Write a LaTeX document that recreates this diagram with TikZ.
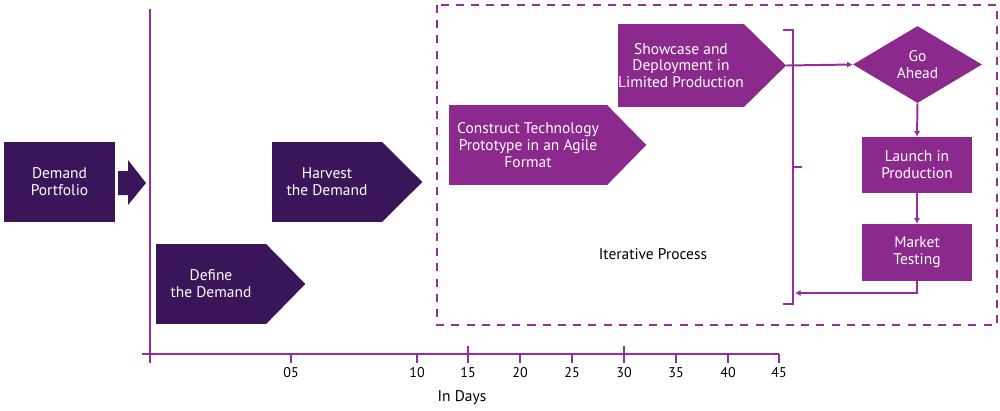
\documentclass[tikz,border=0pt]{standalone}
\usepackage{fontspec}
\setmainfont{PT Sans}
\usetikzlibrary{shapes.geometric,arrows.meta}
\definecolor{deepplum}{RGB}{58,21,90}
\definecolor{orchid}{RGB}{139,41,140}
\definecolor{axisline}{RGB}{150,45,155}

\begin{document}
\begin{tikzpicture}
  [x=0.025cm,y=-0.025cm,
   every node/.style={align=center,font=\fontsize{11}{12}\selectfont},
   darkbox/.style={fill=deepplum,text=white,inner sep=0,minimum height=2cm},
   lightbox/.style={fill=orchid,text=white,inner sep=0},
   axisrule/.style={draw=axisline,line width=1.4pt},
   link/.style={axisrule,-{Latex[length=4pt,width=4.5pt]}}]
  \useasboundingbox (0,0) rectangle (1000,410);

  % time axis
  \draw[axisrule] (150,9) -- (150,363);
  \draw[axisrule] (142,354) -- (779,354);
  \foreach \x/\d in {291/05,417/10,520/20,572/25,676/35,728/40,779/45}
    \draw[axisrule] (\x,354) -- (\x,363) node[font=\fontsize{10}{12}\selectfont,inner sep=0] at (\x,373) {\d};
  \foreach \x/\d in {468/15,624/30}
    \draw[axisrule] (\x,346) -- (\x,363) node[font=\fontsize{10}{12}\selectfont,inner sep=0] at (\x,373) {\d};
  \node (days) at (462,398) {In Days};

  % iterative frame
  \draw[axisrule,dash pattern=on 0.2cm off 0.18cm] (437,5) rectangle (997,325);
  \node (iter) at (653,254) {Iterative Process};

  % steps
  \node[darkbox,minimum width=2.775cm] (portfolio) at (59.5,182) {Demand\\Portfolio};
  \fill[deepplum] (118,171) -- (128,171) -- (128,160) -- (146,183) -- (128,205) -- (128,195) -- (118,195) -- cycle;
  \node[darkbox,minimum width=2.75cm] (define) at (211,284) {Define\\the Demand};
  \node[darkbox,minimum width=2.75cm] (harvest) at (327,182) {Harvest\\the Demand};
  \node[lightbox,minimum width=3.95cm,minimum height=2cm] (construct) at (528,145) {Construct Technology\\Prototype in an Agile\\Format};
  \node[lightbox,minimum width=2.85cm,minimum height=2.075cm] (showcase) at (681,65.5) {Showcase and\\Deployment in\\Limited Production};
  \foreach \n/\c/\t in {define/deepplum/39,harvest/deepplum/40,construct/orchid/39,showcase/orchid/42}
    \fill[\c] ([shift={(-0.5,0)}]\n.north east) -- ([shift={(\t,0)}]\n.east) -- ([shift={(-0.5,0)}]\n.south east) -- cycle;
  \coordinate (showtip) at ([shift={(42,0)}]showcase.east);

  \node[diamond,lightbox,aspect=1.675,minimum width=3.225cm,minimum height=1.925cm] (go) at (917.5,64.5) {Go\\Ahead};
  \node[lightbox,minimum width=2.75cm,minimum height=1.4cm] (launch) at (917,165) {Launch in\\Production};
  \node[lightbox,minimum width=2.75cm,minimum height=1.425cm] (market) at (917,252.5) {Market\\Testing};

  % bracket and links
  \draw[axisrule] (783,30) -| (793,304) -- (783,304);
  \draw[axisrule] (793,167) -- (802,167);
  \coordinate (back) at (795,293);
  \draw[link] (showtip) -- (go.west);
  \draw[link] (go.south) -- (launch.north);
  \draw[link] (launch.south) -- (market.north);
  \draw[link] (market.south) |- (back);
\end{tikzpicture}
\end{document}
